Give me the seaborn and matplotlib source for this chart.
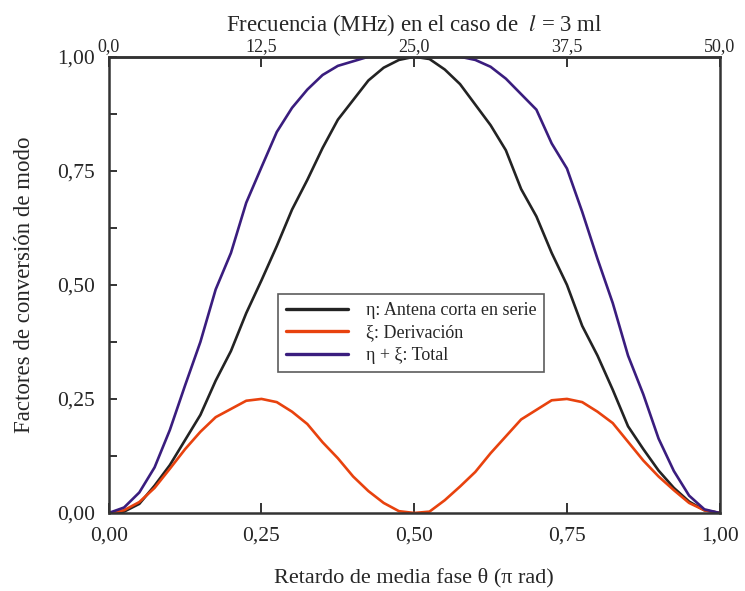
import numpy as np
import pandas as pd
import matplotlib
matplotlib.use("Agg")
import matplotlib.pyplot as plt
import seaborn as sns

theta = [0.0, 0.025, 0.05, 0.075, 0.1, 0.125, 0.15, 0.175, 0.2, 0.225, 0.25,
         0.275, 0.3, 0.325, 0.35, 0.375, 0.4, 0.425, 0.45, 0.475, 0.5,
         0.525, 0.55, 0.575, 0.6, 0.625, 0.65, 0.675, 0.7, 0.725, 0.75,
         0.775, 0.8, 0.825, 0.85, 0.875, 0.9, 0.925, 0.95, 0.975, 1.0]

eta = [0.0, 0.003, 0.02, 0.06, 0.105, 0.16, 0.215, 0.29, 0.355, 0.438, 0.51,
       0.585, 0.665, 0.73, 0.8, 0.862, 0.905, 0.948, 0.976, 0.993, 1.0,
       0.995, 0.972, 0.94, 0.895, 0.85, 0.795, 0.71, 0.65, 0.57, 0.5,
       0.41, 0.345, 0.27, 0.19, 0.14, 0.093, 0.055, 0.025, 0.006, 0.0]

xi = [0.0, 0.006, 0.024, 0.055, 0.097, 0.14, 0.178, 0.21, 0.228, 0.246, 0.25,
      0.243, 0.222, 0.195, 0.155, 0.12, 0.08, 0.048, 0.022, 0.004, 0.0,
      0.003, 0.028, 0.058, 0.09, 0.131, 0.168, 0.205, 0.226, 0.247, 0.25,
      0.243, 0.222, 0.197, 0.156, 0.115, 0.08, 0.05, 0.022, 0.006, 0.0]

total = [0.0, 0.012, 0.045, 0.1, 0.182, 0.28, 0.375, 0.49, 0.57, 0.68, 0.758,
         0.835, 0.888, 0.928, 0.96, 0.98, 0.99, 1.0, 1.0, 1.0, 1.0,
         1.0, 1.0, 1.0, 0.993, 0.978, 0.952, 0.918, 0.884, 0.81, 0.755,
         0.66, 0.557, 0.46, 0.345, 0.26, 0.163, 0.092, 0.038, 0.008, 0.0]

series_names = ["η: Antena corta en serie", "ξ: Derivación", "η + ξ: Total"]
series_colors = ["#232323", "#e8420e", "#3a1d7e"]

x_ticks = [0.0, 0.25, 0.5, 0.75, 1.0]
x_ticklabels = ["0,00", "0,25", "0,50", "0,75", "1,00"]
y_ticks = [0.0, 0.25, 0.5, 0.75, 1.0]
y_ticklabels = ["0,00", "0,25", "0,50", "0,75", "1,00"]
top_ticklabels = ["0,0", "12,5", "25,0", "37,5", "50,0"]

df = pd.concat([
    pd.DataFrame({"theta": theta, "valor": eta, "serie": series_names[0]}),
    pd.DataFrame({"theta": theta, "valor": xi, "serie": series_names[1]}),
    pd.DataFrame({"theta": theta, "valor": total, "serie": series_names[2]}),
])

sns.set_style("ticks")
plt.rcParams["font.family"] = ["Liberation Serif", "DejaVu Serif"]
plt.rcParams["mathtext.fontset"] = "stix"

fig = plt.figure(figsize=(7.45, 5.91), dpi=100)
ax = fig.add_axes([0.146, 0.132, 0.82, 0.772])

sns.lineplot(data=df, x="theta", y="valor", hue="serie", hue_order=series_names,
             palette=dict(zip(series_names, series_colors)), linewidth=1.9,
             ax=ax, legend=True)

ax.set_xlim(0, 1)
ax.set_ylim(0, 1)
ax.set_xticks(x_ticks)
ax.set_xticklabels(x_ticklabels)
ax.set_yticks(y_ticks)
ax.set_yticklabels(y_ticklabels)
ax.set_yticks([0.125, 0.375, 0.625, 0.875], minor=True)
ax.tick_params(axis="both", which="both", direction="in", labelsize=15.5,
               color="#333333", width=1.4)
ax.tick_params(axis="x", which="major", length=7, pad=10)
ax.tick_params(axis="y", which="major", length=6, pad=10)
ax.tick_params(axis="y", which="minor", length=6)
for s in ax.spines.values():
    s.set_color("#333333")
    s.set_linewidth(1.8)

ax.set_xlabel("Retardo de media fase θ (π rad)", fontsize=16, labelpad=16)
ax.set_ylabel("Factores de conversión de modo", fontsize=16.5, labelpad=16)

top = ax.secondary_xaxis("top", functions=(lambda t: t * 50, lambda f: f / 50))
top.set_xticks([0, 12.5, 25, 37.5, 50])
top.set_xticklabels(top_ticklabels)
top.tick_params(direction="in", length=7, labelsize=13, pad=1, color="#333333", width=1.4)
top.spines["top"].set_color("#333333")
top.spines["top"].set_linewidth(1.8)
top.set_xlabel(r"Frecuencia (MHz) en el caso de  $\mathit{l}$ = 3 ml", fontsize=16.5, labelpad=5)

leg = ax.legend(loc="upper left", bbox_to_anchor=(0.277, 0.480), borderaxespad=0,
                fontsize=13, handlelength=3.4, handletextpad=1.0,
                labelspacing=0.3, frameon=True, fancybox=False,
                borderpad=0.45, title=None)
leg.get_frame().set_edgecolor("#333333")
leg.get_frame().set_linewidth(1.2)
for line in leg.get_lines():
    line.set_linewidth(2.4)

fig.savefig("out.png", dpi=100)
